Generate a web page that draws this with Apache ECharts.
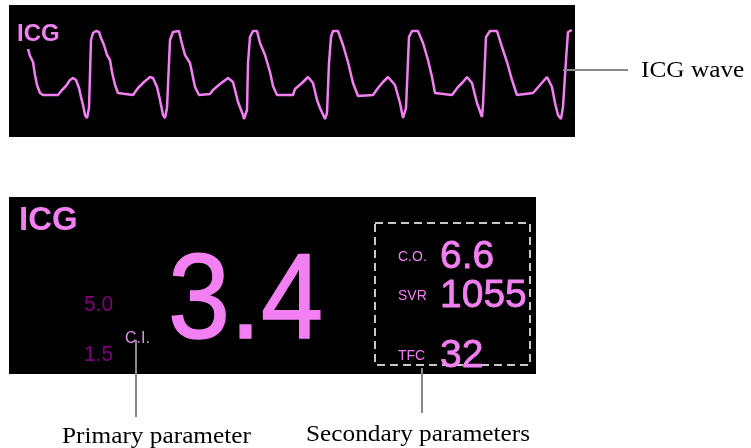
<!DOCTYPE html>
<html>
<head>
<meta charset="utf-8">
<script src="https://cdn.jsdelivr.net/npm/echarts@6/dist/echarts.min.js"></script>
<style>
html,body{margin:0;padding:0;background:#fff;}
#icg{width:751px;height:448px;}
</style>
</head>
<body>
<div id="icg"></div>
<script>
//ICG波形，[时间位置, 幅度]
var waveData = [
	[28,88],[30,81],[33,75],[35,62],[37,52],[40,44],[43,42],[58,42],[62,47],[66,51],[70,57],[73,59],[76,57],[79,49],[81,40],[83,32],[85,22],[87,19],[89,29],
	[91,97],[93,104],[96,106],[99,105],[101,99],[104,92],[107,82],[110,77],[112,65],[115,52],[118,44],[120,42],
	[133,42],[138,49],[144,55],[150,60],[153,59],[157,50],[160,37],[163,22],[165,19],[167,29],
	[170,97],[173,105],[179,106],[181,97],[185,82],[190,74],[195,50],[199,42],
	[210,43],[213,47],[220,53],[228,59],[233,55],[238,35],[243,22],[244,18],[247,27],
	[248,74],[250,100],[253,106],[257,106],[260,94],[265,82],[270,65],[273,51],[277,42],
	[293,42],[295,48],[302,54],[308,60],[313,54],[317,37],[320,29],[325,18],[327,24],
	[329,74],[331,100],[333,106],[338,106],[343,92],[348,75],[353,54],[358,41],
	[373,42],[378,49],[383,55],[388,60],[395,52],[400,34],[403,19],[406,29],
	[409,100],[412,106],[418,106],[423,94],[428,77],[432,60],[435,44],
	[452,42],[458,50],[463,55],[467,60],[472,54],[477,34],[482,20],[483,32],
	[486,100],[490,106],[497,106],[502,90],[507,75],[512,57],[517,42],
	[533,44],[540,52],[547,60],[552,50],[555,34],[558,22],[561,18],[563,30],
	[566,77],[568,105],[572,107]
];
//主参数及报警限
var primaryName = "C.I.";
var primaryValue = "3.4";
var alarmLimits = ["5.0","1.5"];
//次参数
var secondaryNames = ["C.O.","SVR","TFC"];
var secondaryValues = ["6.6","1055","32"];
//标注文字
var calloutTexts = ["ICG wave","Primary parameter","Secondary parameters"];

var pink = "#f280f2";
var serif = "'Liberation Serif','Times New Roman',serif";
var sans = "'Liberation Sans',Arial,sans-serif";

function txt(text, x, y, size, color, opt){
	opt = opt || {};
	return {
		type:"text", x:x, y:y, scaleX:opt.sx || 1, z:10,
		style:{
			text:text, fill:color, fontSize:size,
			fontFamily:opt.font || sans, fontWeight:opt.bold ? "bold" : "normal",
			align:opt.align || "left", verticalAlign:"middle",
			stroke:opt.stroke ? color : null, lineWidth:opt.stroke || 0
		}
	};
}
function vline(x, y1, y2){
	return {type:"line", z:10, shape:{x1:x,y1:y1,x2:x,y2:y2}, style:{stroke:"#888",lineWidth:2}};
}

var graphics = [
	//两个黑色面板
	{type:"rect", z:-1, shape:{x:9,y:5,width:566,height:132}, style:{fill:"#000"}},
	{type:"rect", z:-1, shape:{x:9,y:197,width:527,height:177}, style:{fill:"#000"}},
	txt("ICG", 17, 34, 24, pink, {bold:true}),
	txt("ICG", 19, 221, 33, pink, {bold:true}),
	//主参数
	txt(primaryValue, 168, 305, 120, pink, {sx:0.93, stroke:1.5}),
	txt(primaryName, 125, 339, 16, "#e090e8"),
	txt(alarmLimits[0], 113, 305, 22, "#800080", {align:"right", sx:0.95}),
	txt(alarmLimits[1], 113, 355, 22, "#800080", {align:"right", sx:0.95}),
	//次参数虚线框
	{type:"rect", z:10, shape:{x:375,y:223,width:155,height:142},
		style:{fill:null,stroke:"#c8c8c8",lineWidth:2,lineDash:[8,5]}},
	//标注线
	{type:"line", z:10, shape:{x1:563,y1:70,x2:628,y2:70}, style:{stroke:"#888",lineWidth:2}},
	vline(136, 340, 417),
	vline(422, 368, 413),
	txt(calloutTexts[0], 641, 71, 23, "#000", {font:serif, sx:1.1}),
	txt(calloutTexts[1], 62, 437, 23, "#000", {font:serif, sx:1.1}),
	txt(calloutTexts[2], 306, 435, 23, "#000", {font:serif, sx:1.1})
];
var rowY = [257, 296, 356];
secondaryNames.forEach(function(name, i){
	graphics.push(txt(name, 398, rowY[i], 14, pink));
	graphics.push(txt(secondaryValues[i], 440, rowY[i], 39, pink, {stroke:0.8}));
});

var myChart = echarts.init(document.getElementById("icg"));
var option = {
	animation:false,
	grid:{left:9, top:5, width:566, height:132},
	xAxis:{type:"value", min:9, max:575, show:false},
	yAxis:{type:"value", min:0, max:132, show:false},
	series:[
		{
			name:"ICG",
			type:"line",
			data:waveData,
			symbol:"none",
			lineStyle:{color:pink, width:2.5},
			z:5
		}
	],
	graphic:graphics
};
myChart.setOption(option);
</script>
</body>
</html>
